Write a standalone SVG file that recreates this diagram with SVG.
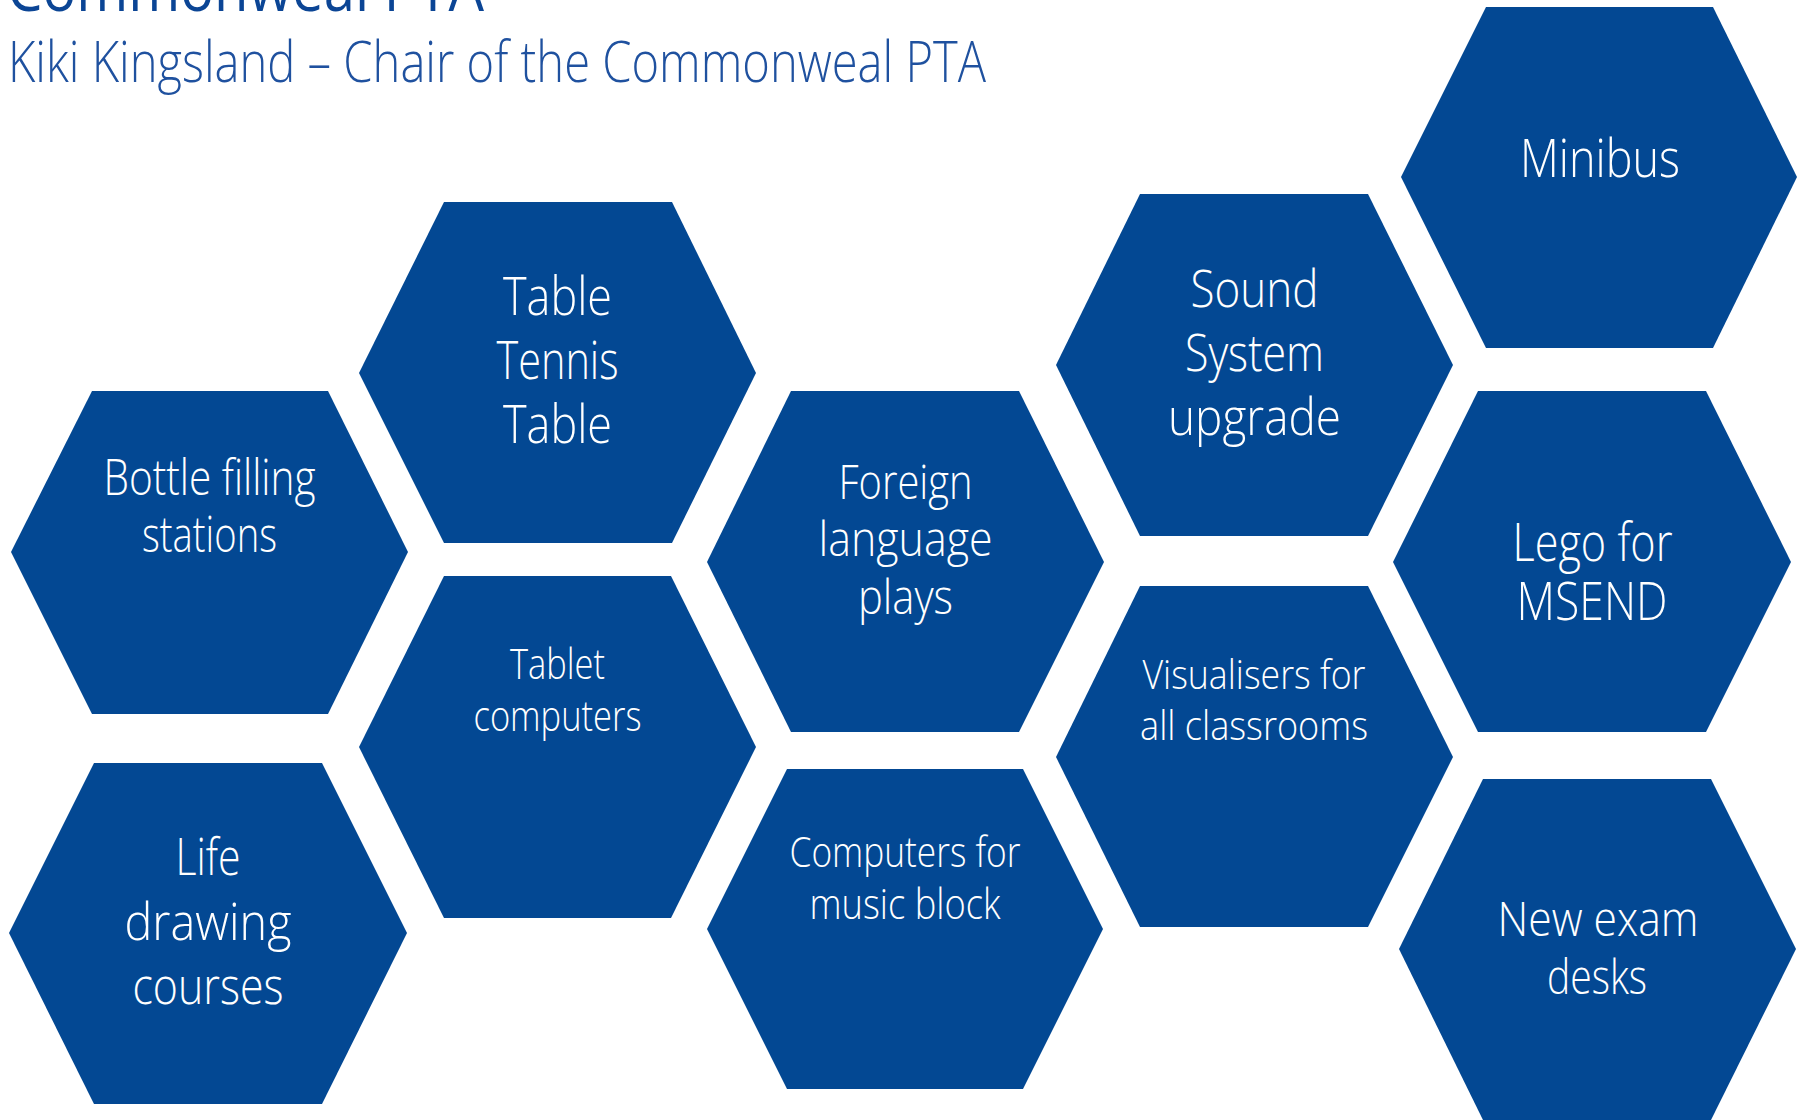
<svg xmlns="http://www.w3.org/2000/svg" width="1806" height="1120" viewBox="0 0 1806 1120">
<style>
.hex{fill:#034893;}
.lbl{font-family:"Open Sans","Segoe UI",sans-serif;font-weight:300;fill:#ffffff;text-anchor:middle;}
.title{font-family:"Open Sans",sans-serif;font-weight:400;fill:#0b4595;}
.sub{font-family:"Open Sans",sans-serif;font-weight:300;fill:#1f519f;}
</style>
<rect width="1806" height="1120" fill="#ffffff"/>
<text class="title" x="7" y="11" font-size="64" textLength="477" lengthAdjust="spacingAndGlyphs">Commonweal PTA</text>
<text class="sub" x="8" y="82" font-size="57" textLength="978" lengthAdjust="spacingAndGlyphs">Kiki Kingsland – Chair of the Commonweal PTA</text>
<g id="connectors"></g>
<g id="node-bottle">
<polygon class="hex" points="92,391 328,391 408,552 328,714 92,714 11,552"/>
<text class="lbl" font-size="49"><tspan x="209.5" y="495" textLength="212" lengthAdjust="spacingAndGlyphs">Bottle filling</tspan><tspan x="209.5" y="552" textLength="135" lengthAdjust="spacingAndGlyphs">stations</tspan></text>
</g>
<g id="node-tabletennis">
<polygon class="hex" points="444,202 672,202 756,373 672,543 444,543 359,373"/>
<text class="lbl" font-size="53"><tspan x="557.5" y="315" textLength="109" lengthAdjust="spacingAndGlyphs">Table</tspan><tspan x="557.5" y="378.5" textLength="122" lengthAdjust="spacingAndGlyphs">Tennis</tspan><tspan x="557.5" y="442.5" textLength="109" lengthAdjust="spacingAndGlyphs">Table</tspan></text>
</g>
<g id="node-tablet">
<polygon class="hex" points="444,576 671,576 756,747 671,918 444,918 359,747"/>
<text class="lbl" font-size="42"><tspan x="557.5" y="679" textLength="95" lengthAdjust="spacingAndGlyphs">Tablet</tspan><tspan x="557.5" y="730.5" textLength="168" lengthAdjust="spacingAndGlyphs">computers</tspan></text>
</g>
<g id="node-life">
<polygon class="hex" points="94,763 322,763 407,933 322,1104 94,1104 9,933"/>
<text class="lbl" font-size="51"><tspan x="208" y="875" textLength="65" lengthAdjust="spacingAndGlyphs">Life</tspan><tspan x="208" y="939.5" textLength="167" lengthAdjust="spacingAndGlyphs">drawing</tspan><tspan x="208" y="1003.5" textLength="151" lengthAdjust="spacingAndGlyphs">courses</tspan></text>
</g>
<g id="node-foreign">
<polygon class="hex" points="791,391 1019,391 1104,562 1019,732 791,732 707,562"/>
<text class="lbl" font-size="48"><tspan x="905.5" y="499" textLength="134" lengthAdjust="spacingAndGlyphs">Foreign</tspan><tspan x="905.5" y="556" textLength="174" lengthAdjust="spacingAndGlyphs">language</tspan><tspan x="905.5" y="613.5" textLength="95" lengthAdjust="spacingAndGlyphs">plays</tspan></text>
</g>
<g id="node-computers">
<polygon class="hex" points="787,769 1023,769 1103,929 1023,1089 787,1089 707,929"/>
<text class="lbl" font-size="42"><tspan x="905" y="866.5" textLength="231" lengthAdjust="spacingAndGlyphs">Computers for</tspan><tspan x="905" y="918.5" textLength="191" lengthAdjust="spacingAndGlyphs">music block</tspan></text>
</g>
<g id="node-sound">
<polygon class="hex" points="1140,194 1368,194 1453,365 1368,536 1140,536 1056,365"/>
<text class="lbl" font-size="52"><tspan x="1254.5" y="306.5" textLength="128" lengthAdjust="spacingAndGlyphs">Sound</tspan><tspan x="1254.5" y="370.5" textLength="139" lengthAdjust="spacingAndGlyphs">System</tspan><tspan x="1254.5" y="435" textLength="173" lengthAdjust="spacingAndGlyphs">upgrade</tspan></text>
</g>
<g id="node-visualisers">
<polygon class="hex" points="1140,586 1368,586 1453,757 1368,927 1140,927 1056,757"/>
<text class="lbl" font-size="41"><tspan x="1254" y="688.5" textLength="223" lengthAdjust="spacingAndGlyphs">Visualisers for</tspan><tspan x="1254" y="740" textLength="228" lengthAdjust="spacingAndGlyphs">all classrooms</tspan></text>
</g>
<g id="node-minibus">
<polygon class="hex" points="1486,7 1713,7 1797,177 1713,348 1486,348 1401,177"/>
<text class="lbl" font-size="54"><tspan x="1600" y="176.5" textLength="160" lengthAdjust="spacingAndGlyphs">Minibus</tspan></text>
</g>
<g id="node-lego">
<polygon class="hex" points="1478,391 1706,391 1791,562 1706,732 1478,732 1393,562"/>
<text class="lbl" font-size="53"><tspan x="1592.5" y="561" textLength="160" lengthAdjust="spacingAndGlyphs">Lego for</tspan><tspan x="1592" y="619.5" textLength="151" lengthAdjust="spacingAndGlyphs">MSEND</tspan></text>
</g>
<g id="node-exam">
<polygon class="hex" points="1483,779 1711,779 1796,949 1711,1120 1483,1120 1399,949"/>
<text class="lbl" font-size="48"><tspan x="1598" y="935.5" textLength="201" lengthAdjust="spacingAndGlyphs">New exam</tspan><tspan x="1597" y="993.5" textLength="100" lengthAdjust="spacingAndGlyphs">desks</tspan></text>
</g>
</svg>
